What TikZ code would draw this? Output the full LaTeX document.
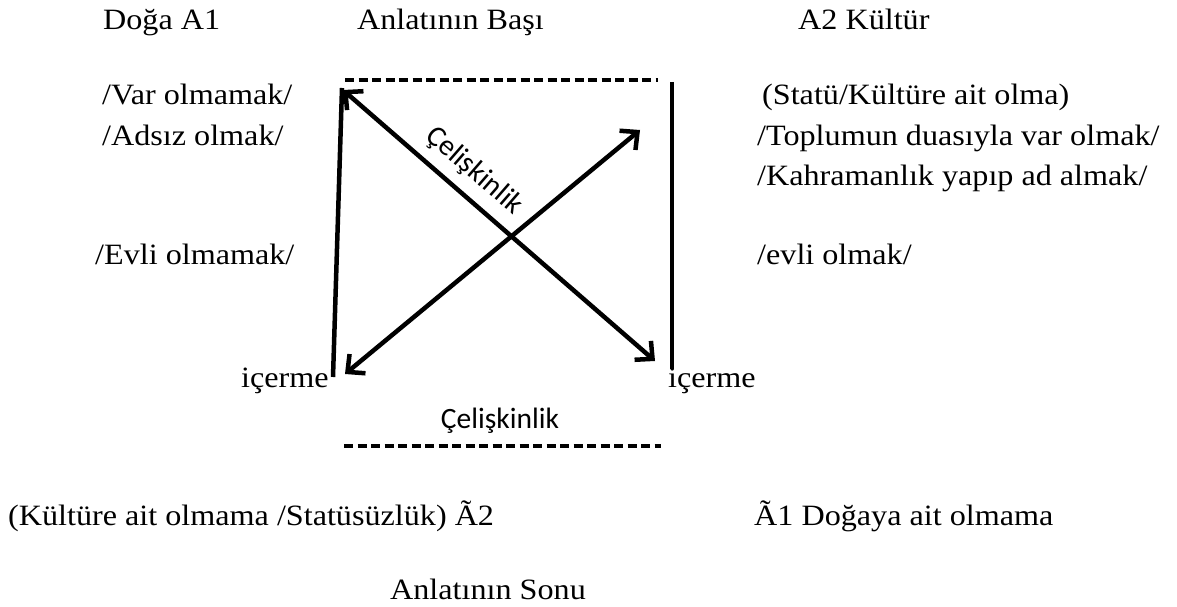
\documentclass[tikz,border=0pt]{standalone}
\usepackage{fontspec}
\setmainfont{Liberation Serif}[FakeStretch=1.09]
\newfontfamily\calib{Carlito}
\usetikzlibrary{arrows.meta}
\tikzset{
  txt/.style={anchor=base west, inner sep=0pt, font=\fontsize{29.5}{35}\selectfont},
  sanstxt/.style={inner sep=0pt, font=\calib\fontsize{29.5}{35}\selectfont},
  solidline/.style={line width=4.5pt},
  dashline/.style={line width=3.5pt, dash pattern=on 9pt off 4.5pt},
  dblarrow/.style={line width=4.5pt, {Straight Barb[length=13pt,width=25pt]}-{Straight Barb[length=13pt,width=25pt]}},
}
\begin{document}
\begin{tikzpicture}[x=1pt,y=-1pt]
\useasboundingbox (0,0) rectangle (1177,607);
% texts
\node[txt] (doga) at (103,30) {Doğa A1};
\node[txt] (bas) at (357,30) {Anlatının Başı};
\node[txt] (kultur) at (798,30) {A2 Kültür};
\node[txt] (var) at (102,105) {/Var olmamak/};
\node[txt] (adsiz) at (102,145) {/Adsız olmak/};
\node[txt] (evlid) at (95,264) {/Evli olmamak/};
\node[txt] (statu) at (762,105) {(Statü/Kültüre ait olma)};
\node[txt] (toplum) at (757,146) {/Toplumun duasıyla var olmak/};
\node[txt] (kahr) at (757,185) {/Kahramanlık yapıp ad almak/};
\node[txt] (evli) at (757,264) {/evli olmak/};
\node[txt] (icl) at (241,387) {içerme};
\node[txt] (icr) at (668,387) {içerme};
\node[txt] (kulolm) at (8,525) {(Kültüre ait olmama /Statüsüzlük) Ã2};
\node[txt] (dogolm) at (754,525) {Ã1 Doğaya ait olmama};
\node[txt] (son) at (390,599) {Anlatının Sonu};
\node[sanstxt, anchor=base] (celb) at (500,428) {Çelişkinlik};
\node[sanstxt, rotate=-41] (celd) at (474,171) {Çelişkinlik};
% coordinates
\coordinate (dt1) at (345,80);
\coordinate (dt2) at (658,80);
\coordinate (db1) at (344,446);
\coordinate (db2) at (661,446);
\coordinate (lt) at (342,88);
\coordinate (lb) at (333,377);
\coordinate (rt) at (672,82);
\coordinate (rb) at (672,369);
\coordinate (d1a) at (343,90);
\coordinate (d1b) at (655,361);
\coordinate (d2a) at (345,374);
\coordinate (d2b) at (640,130);
% lines
\draw[dashline] (dt1) -- (dt2);
\draw[dashline] (db1) -- (db2);
\draw[solidline] (lt) -- (lb);
\draw[solidline] (rt) -- (rb);
\draw[dblarrow] (d1a) -- (d1b);
\draw[dblarrow] (d2a) -- (d2b);
\end{tikzpicture}
\end{document}
